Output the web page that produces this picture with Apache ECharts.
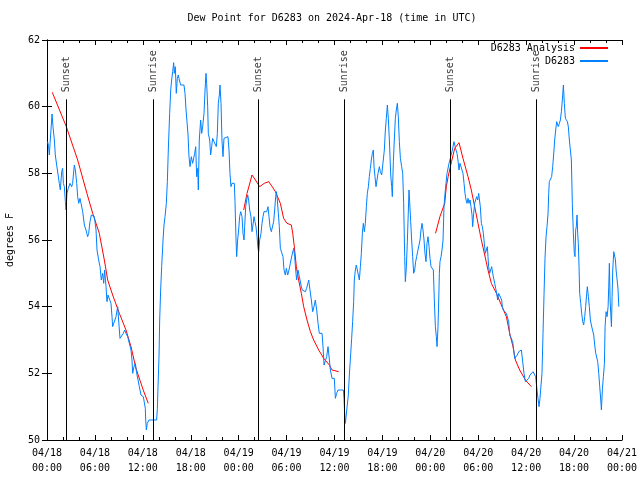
<!DOCTYPE html>
<html>
<head>
<meta charset="utf-8">
<script src="https://cdn.jsdelivr.net/npm/echarts@6/dist/echarts.min.js"></script>
<style>html,body{margin:0;padding:0;background:#fff}#c{width:640px;height:480px}</style>
</head>
<body>
<div id="c"></div>
<script>
// ---- data (hours since 04/18 00:00 UTC, dew point in degrees F) ----
const dayLabels = ['04/18', '04/19', '04/20', '04/21'];
const hourLabels = ['00:00', '06:00', '12:00', '18:00'];
const sunNames = ['Sunset', 'Sunrise', 'Sunset', 'Sunrise', 'Sunset', 'Sunrise'];
const sunHours = [2.42, 13.31, 26.46, 37.27, 50.5, 61.24];

const analysis1 = [[0.66,60.43],[2.42,59.4],[3.84,58.4],[5.0,57.4],[5.72,56.8],[6.55,56.2],[7.18,55.4],[7.6,54.8],[8.22,54.35],[9.06,53.8],[9.89,53.3],[10.52,52.8],[11.14,52.15],[12.05,51.5],[12.68,51.1]];
const analysis2 = [[24.63,56.9],[25.05,57.4],[25.67,57.95],[26.1,57.8],[26.63,57.6],[27.2,57.7],[27.76,57.75],[28.2,57.6],[28.6,57.45],[29.22,57.1],[29.63,56.65],[30.05,56.5],[30.6,56.45],[30.77,56.2],[30.97,55.8],[31.22,55.2],[31.51,54.8],[31.85,54.4],[32.14,54.0],[32.56,53.6],[32.98,53.25],[33.39,53.0],[34.02,52.7],[34.65,52.45],[35.36,52.25],[35.69,52.1],[36.52,52.05]];
const analysis3 = [[48.65,56.2],[49.2,56.7],[49.8,57.1],[50.0,57.6],[50.23,57.9],[50.65,58.35],[51.05,58.75],[51.59,58.92],[52.09,58.45],[52.72,57.9],[53.13,57.5],[53.55,57.0],[53.97,56.5],[54.39,56.0],[54.81,55.55],[55.22,55.1],[55.64,54.7],[56.27,54.4],[56.89,54.05],[57.52,53.7],[57.94,53.2],[58.35,52.8],[58.65,52.4],[59.19,52.1],[59.9,51.8],[60.65,51.6]];

const obsDay1 = [[0.08,58.95],[0.2,58.8],[0.29,58.55],[0.38,58.9],[0.54,59.45],[0.63,59.78],[0.75,59.4],[0.92,59.0],[1.04,58.55],[1.21,58.25],[1.46,58.2],[1.54,57.7],[1.67,57.5],[1.84,58.05],[1.96,58.15],[2.05,57.7],[2.17,57.6],[2.30,57.15],[2.38,56.9],[2.50,57.4],[2.67,57.55],[2.88,57.7],[3.09,57.6],[3.21,57.7],[3.42,58.25],[3.55,58.1],[3.72,57.7],[3.84,57.3],[3.97,57.1],[4.13,57.25],[4.26,57.1],[4.47,56.85],[4.68,56.45],[4.88,56.3],[5.09,56.1],[5.22,56.2],[5.38,56.55],[5.55,56.75],[5.72,56.8],[5.93,56.7],[6.14,56.3],[6.26,55.7],[6.47,55.4],[6.64,55.2],[6.80,54.8],[6.97,55.0],[7.10,54.7],[7.22,55.1],[7.39,54.6],[7.51,54.15],[7.64,54.35],[7.81,54.4],[8.01,54.1],[8.14,53.7],[8.22,53.4],[8.43,53.4],[8.64,53.7],[8.85,54.0],[8.97,53.6],[9.14,53.05],[9.39,53.0],[9.56,53.2],[9.72,53.3],[9.89,53.2],[10.10,53.1],[10.31,53.05],[10.52,52.7],[10.64,52.4],[10.73,52.0],[10.89,52.2],[11.06,52.3],[11.23,52.0],[11.40,51.8],[11.56,51.6],[11.77,51.35],[12.06,51.3],[12.27,51.3],[12.31,50.95],[12.36,50.6],[12.44,50.3],[12.56,50.5],[12.77,50.6],[13.73,50.6],[13.82,50.95],[13.90,51.6],[14.02,52.45],[14.11,53.6],[14.23,54.5],[14.36,55.2],[14.53,56.0],[14.65,56.45],[14.78,56.7],[14.94,57.1],[15.07,57.75],[15.19,58.7],[15.36,59.8],[15.49,60.5],[15.61,60.8],[15.74,61.05],[15.86,61.32],[15.94,61.0],[16.07,61.2],[16.19,60.4],[16.32,60.85],[16.44,60.95],[16.57,60.8],[16.74,60.65],[17.15,60.65],[17.28,60.4],[17.41,59.9],[17.53,59.55],[17.66,59.15],[17.78,58.5],[17.91,58.2],[18.07,58.5],[18.24,58.3],[18.41,58.35],[18.49,58.6],[18.62,58.8],[18.74,57.9],[18.87,58.15],[18.95,57.5],[19.07,59.0],[19.24,59.6],[19.37,59.2],[19.49,59.4],[19.66,59.8],[19.79,60.5],[19.91,61.0],[19.99,60.7],[20.12,60.0],[20.20,59.2],[20.37,59.0],[20.49,58.55],[20.62,58.8],[20.74,59.05],[20.91,58.95],[21.08,59.0],[21.20,58.8],[21.33,59.2],[21.45,60.1],[21.58,60.35],[21.66,60.65],[21.79,60.1],[21.91,59.0],[22.04,58.5],[22.16,59.05],[22.29,59.1],[22.66,59.1],[22.79,58.7],[22.91,58.0],[23.04,57.6],[23.16,57.7],[23.33,57.75],[23.46,57.7],[23.54,57.15],[23.67,56.0],[23.75,55.5],[23.87,56.0],[24.00,56.3],[24.12,56.7],[24.25,56.85]];

const obsDay2 = [[24.42,56.7],[24.54,56.2],[24.67,56.0],[24.75,56.4],[24.88,57.0],[25.00,57.2],[25.13,57.35],[25.25,57.2],[25.38,56.9],[25.54,56.7],[25.67,56.25],[25.79,56.45],[25.92,56.7],[26.04,56.55],[26.17,56.4],[26.30,56.1],[26.42,55.75],[26.51,55.65],[26.63,56.0],[26.80,56.2],[26.92,56.5],[27.05,56.7],[27.17,56.85],[27.34,56.9],[27.51,56.85],[27.67,57.0],[27.80,56.7],[27.92,56.4],[28.09,56.25],[28.22,56.3],[28.38,56.55],[28.51,56.9],[28.63,57.3],[28.72,57.45],[28.84,57.2],[28.97,56.8],[29.09,56.4],[29.22,55.75],[29.43,55.75],[29.55,55.5],[29.68,55.1],[29.84,54.95],[29.97,55.15],[30.14,54.95],[30.30,55.1],[30.47,55.3],[30.68,55.55],[30.89,55.75],[31.01,55.5],[31.14,55.1],[31.26,54.8],[31.43,55.1],[31.60,54.9],[31.72,54.85],[31.85,54.6],[31.97,54.5],[32.14,54.45],[32.35,54.45],[32.51,54.55],[32.68,54.5],[32.77,54.8],[32.93,54.5],[33.10,54.2],[33.27,53.85],[33.43,54.0],[33.60,54.2],[33.77,53.9],[33.94,53.5],[34.10,53.2],[34.44,53.2],[34.56,52.8],[34.69,52.25],[34.85,52.2],[35.02,52.5],[35.19,52.8],[35.36,52.4],[35.48,52.1],[35.69,51.85],[35.98,51.85],[36.11,51.25],[36.27,51.4],[36.44,51.5],[36.73,51.5],[37.11,51.5],[37.19,51.25],[37.27,50.8],[37.36,50.5],[37.61,50.5],[37.73,51.35],[37.86,51.95],[38.02,52.55],[38.15,53.05],[38.27,53.55],[38.40,54.15],[38.48,54.8],[38.61,55.1],[38.73,55.25],[38.86,55.3],[38.98,55.2],[39.11,54.8],[39.24,55.2],[39.36,55.6],[39.49,56.2],[39.61,56.5],[39.74,56.25],[39.86,56.5],[39.99,57.0],[40.11,57.4],[40.24,57.6],[40.36,57.9],[40.49,58.15],[40.61,58.4],[40.74,58.6],[40.86,58.7],[40.95,58.2],[41.07,57.9],[41.20,57.6],[41.32,57.8],[41.45,58.0],[41.62,58.2],[41.74,58.05],[41.91,57.95],[42.12,57.95],[42.24,58.7],[42.37,59.3],[42.49,59.65],[42.62,60.05],[42.74,59.65],[42.87,59.0],[43.04,57.95],[43.16,57.6],[43.24,57.3],[43.37,58.35],[43.49,59.0],[43.62,59.65],[43.74,59.9],[43.87,60.1],[43.99,59.7],[44.12,58.95],[44.25,58.45],[44.41,58.2],[44.54,58.0],[44.66,57.1],[44.79,55.5],[44.87,54.75],[45.00,55.2],[45.12,55.95],[45.25,56.9],[45.33,57.5],[45.41,57.15],[45.54,56.55],[45.66,56.0],[45.79,55.5],[45.91,55.0],[46.04,55.1],[46.16,55.35],[46.29,55.5],[46.41,55.65],[46.58,55.65],[46.71,56.0],[46.83,56.3],[46.96,56.5],[47.08,56.3],[47.21,56.0],[47.33,55.6],[47.46,55.35],[47.58,55.9],[47.71,56.1],[47.84,55.8],[47.96,55.45],[48.09,55.2],[48.25,55.2],[48.38,55.1],[48.50,54.2],[48.63,53.4],[48.75,53.1],[48.84,52.8]];

const obsDay3 = [[48.96,53.4],[49.05,54.2],[49.13,55.0],[49.21,55.35],[49.34,55.5],[49.46,55.7],[49.59,56.0],[49.71,57.0],[49.84,57.4],[49.96,57.7],[50.09,58.0],[50.21,58.05],[50.34,58.3],[50.46,58.4],[50.59,58.55],[50.71,58.65],[50.84,58.8],[50.96,58.95],[51.09,59.0],[51.21,58.7],[51.34,58.6],[51.46,58.4],[51.59,58.1],[51.71,58.3],[51.84,58.2],[51.96,58.25],[52.09,58.0],[52.22,57.7],[52.34,57.4],[52.47,57.2],[52.59,57.1],[52.72,57.25],[52.84,57.1],[52.97,57.2],[53.09,57.0],[53.22,56.75],[53.30,56.4],[53.43,56.8],[53.55,57.1],[53.68,57.15],[53.80,57.3],[53.93,57.2],[54.05,57.4],[54.14,57.45],[54.26,57.0],[54.39,56.5],[54.51,56.4],[54.64,56.2],[54.76,55.9],[54.89,55.6],[55.01,55.55],[55.14,55.8],[55.22,55.5],[55.30,55.2],[55.43,55.0],[55.56,55.1],[55.68,55.2],[55.81,55.0],[55.93,54.85],[56.06,54.7],[56.18,54.55],[56.31,54.4],[56.43,54.2],[56.56,54.4],[56.68,54.45],[56.81,54.4],[56.93,54.2],[57.02,54.0],[57.14,53.9],[57.31,53.85],[57.52,53.8],[57.64,53.75],[57.81,53.55],[57.94,53.15],[58.14,53.1],[58.31,52.95],[58.44,52.7],[58.56,52.45],[58.77,52.45],[58.89,52.55],[59.06,52.65],[59.23,52.7],[59.40,52.7],[59.61,52.7],[59.73,52.0],[59.90,51.75],[60.11,51.75],[60.32,51.85],[60.48,51.95],[60.65,52.0],[60.86,52.05],[61.07,52.05],[61.19,51.9],[61.32,51.85],[61.36,51.5],[61.48,51.25],[61.61,51.0],[61.73,51.25],[61.86,51.25],[61.98,52.0],[62.11,53.2],[62.24,54.4],[62.36,55.45],[62.49,56.1],[62.61,56.4],[62.74,56.8],[62.82,57.4],[62.90,57.75],[63.07,57.75],[63.19,57.9],[63.32,58.2],[63.44,58.55],[63.57,59.0],[63.70,59.3],[63.82,59.55],[63.91,59.6],[64.03,59.4],[64.16,59.5],[64.28,59.6],[64.41,59.85],[64.53,60.2],[64.66,60.65],[64.78,60.1],[64.91,59.65],[65.03,59.6],[65.16,59.55],[65.28,59.4],[65.41,59.0],[65.53,58.95],[65.66,58.4],[65.78,57.1],[65.91,56.2],[66.03,55.6],[66.12,55.5],[66.20,56.3],[66.28,56.4],[66.37,56.75],[66.45,56.2],[66.53,55.9],[66.62,55.2],[66.70,54.4],[66.83,54.1],[66.95,53.8],[67.08,53.55],[67.20,53.45],[67.33,53.7],[67.45,54.0],[67.58,54.4],[67.66,54.6],[67.79,54.3],[67.91,54.0],[68.04,53.6],[68.16,53.45],[68.33,53.4],[68.46,53.15],[68.58,52.85],[68.71,52.6],[68.83,52.55],[68.96,52.35],[69.09,52.0],[69.21,51.6],[69.34,51.2],[69.42,50.9],[69.55,51.55],[69.67,51.9],[69.80,52.3],[69.88,53.4],[70.01,53.85],[70.13,53.7],[70.26,54.0],[70.34,54.6],[70.42,55.3],[70.51,54.2],[70.59,53.8],[70.68,53.4],[70.76,54.3],[70.84,55.1],[70.97,55.65],[71.09,55.6],[71.18,55.4],[71.26,55.1],[71.39,54.8],[71.51,54.5],[71.60,54.0]];

// ---- chart ----
const FONT = 'DejaVu Sans Mono';
const analysisData = analysis1.concat([[null, null]], analysis2, [[null, null]], analysis3);
const obsData = obsDay1.concat(obsDay2, obsDay3);
const sunLineTop = 60.22;

function xLabel(v) {
  const d = Math.floor(v / 24);
  const h = Math.round((v % 24) / 6);
  return dayLabels[d] + '\n' + hourLabels[h];
}

const baseAxisLine = { show: true, lineStyle: { color: '#000', width: 1 } };
const legendCommon = {
  padding: 0, orient: 'vertical', align: 'right', itemWidth: 28, itemHeight: 12, selectedMode: false,
  itemStyle: { color: 'rgba(0,0,0,0)', borderColor: 'rgba(0,0,0,0)', borderWidth: 0, opacity: 0 },
  textStyle: { fontFamily: FONT, fontSize: 10, color: '#000' }
};
const chart = echarts.init(document.getElementById('c'), null, { renderer: 'canvas' });
chart.setOption({
  animation: false,
  backgroundColor: '#fff',
  textStyle: { fontFamily: FONT, fontSize: 10, color: '#000' },
  title: {
    text: 'Dew Point for D6283 on 2024-Apr-18 (time in UTC)',
    left: 332, top: 13, padding: 0, textAlign: 'center',
    textStyle: { fontFamily: FONT, fontSize: 10, fontWeight: 'normal', color: '#000' }
  },
  legend: [
    Object.assign({ data: ['D6283 Analysis'], right: 31, top: 43 }, legendCommon),
    Object.assign({ data: ['D6283'], right: 31, top: 56 }, legendCommon)
  ],
  grid: { left: 47, right: 18, top: 40, bottom: 40, containLabel: false, outerBoundsMode: 'none' },
  xAxis: [
    { type: 'value', min: 0, max: 72, interval: 6, position: 'bottom',
      axisLine: baseAxisLine,
      axisTick: { show: true, inside: true, length: 5, lineStyle: { color: '#000' } },
      minorTick: { show: true, splitNumber: 3, length: 3, lineStyle: { color: '#000' } },
      axisLabel: { formatter: xLabel, fontFamily: FONT, fontSize: 10, color: '#000', lineHeight: 15, margin: 6 },
      splitLine: { show: false }, minorSplitLine: { show: false } },
    { type: 'value', min: 0, max: 72, interval: 6, position: 'top',
      axisLine: baseAxisLine,
      axisTick: { show: true, inside: true, length: 5, lineStyle: { color: '#000' } },
      minorTick: { show: true, splitNumber: 3, length: 3, lineStyle: { color: '#000' } },
      axisLabel: { show: false }, splitLine: { show: false } }
  ],
  yAxis: [
    { type: 'value', min: 50, max: 62, interval: 2, position: 'left',
      name: 'degrees F', nameLocation: 'middle', nameGap: 32, nameRotate: 90,
      nameTextStyle: { fontFamily: FONT, fontSize: 10, color: '#000' },
      axisLine: baseAxisLine,
      axisTick: { show: true, inside: true, length: 5, lineStyle: { color: '#000' } },
      axisLabel: { fontFamily: FONT, fontSize: 10, color: '#000', margin: 7 },
      splitLine: { show: false } },
    { type: 'value', min: 50, max: 62, interval: 2, position: 'right',
      axisLine: baseAxisLine,
      axisTick: { show: true, inside: true, length: 5, lineStyle: { color: '#000' } },
      axisLabel: { show: false }, splitLine: { show: false } }
  ],
  series: [
    {
      name: 'sun', type: 'scatter', symbolSize: 0, silent: true,
      data: sunHours.map((h, i) => [h, sunLineTop, sunNames[i]]),
      label: { show: true, position: 'top', distance: 7, rotate: 90, align: 'left', verticalAlign: 'middle',
        formatter: p => p.data[2], fontFamily: FONT, fontSize: 10, color: '#000' },
      markLine: {
        silent: true, symbol: ['none', 'none'], label: { show: false },
        lineStyle: { color: '#000', width: 1, type: 'solid' },
        data: sunHours.map(h => [{ coord: [h, 50] }, { coord: [h, sunLineTop] }])
      }
    },
    {
      name: 'D6283 Analysis', type: 'line', data: analysisData, showSymbol: false, symbol: 'none',
      connectNulls: false, lineStyle: { color: '#ff0000', width: 1 }, itemStyle: { color: '#ff0000' }
    },
    {
      name: 'D6283', type: 'line', data: obsData, showSymbol: false, symbol: 'none',
      lineStyle: { color: '#0080ff', width: 1 }, itemStyle: { color: '#0080ff' }
    }
  ]
});
</script>
</body>
</html>
